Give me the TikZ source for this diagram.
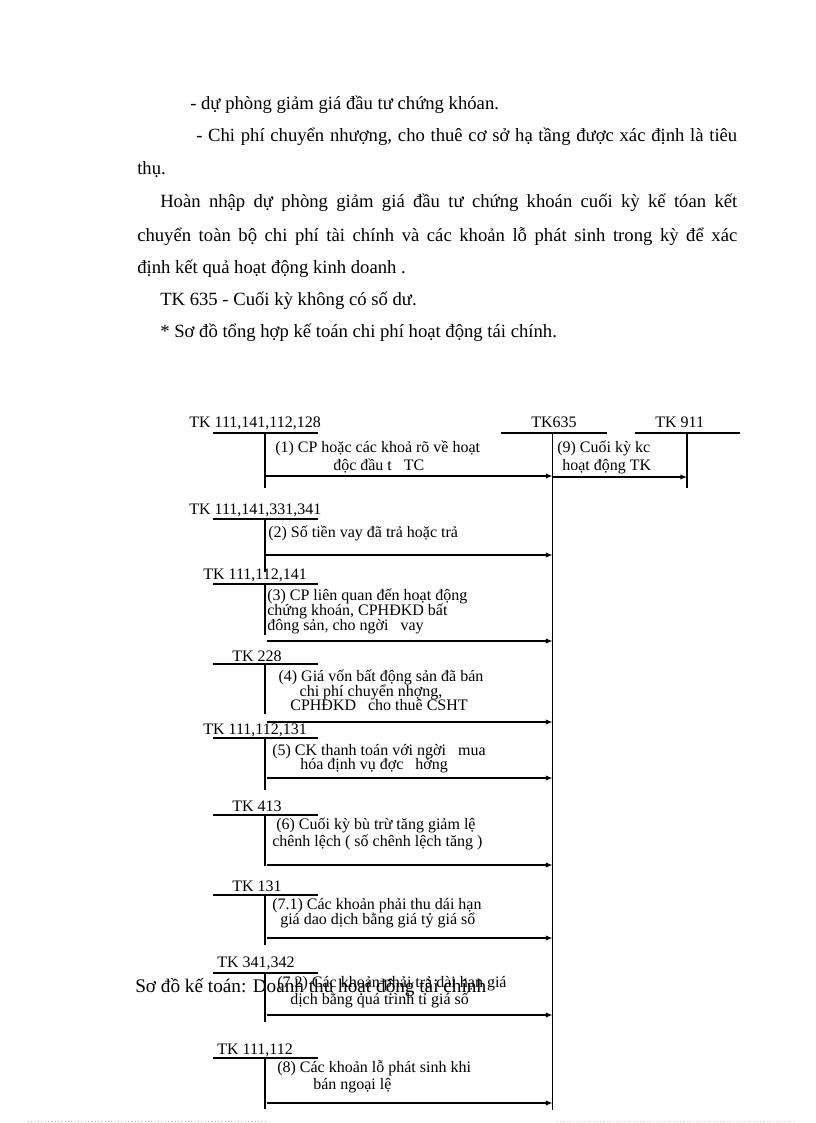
\documentclass[tikz,border=0pt]{standalone}
\usepackage{fontspec}
\setmainfont{Liberation Serif}
\usetikzlibrary{arrows.meta}
\begin{document}
\begin{tikzpicture}[x=0.75pt,y=-0.75pt,
  body/.style={inner sep=0pt,anchor=base west,font=\rmfamily\fontsize{14}{16}\selectfont},
  lbl/.style={inner sep=0pt,anchor=base west,font=\rmfamily\fontsize{12}{14}\selectfont},
  clbl/.style={inner sep=0pt,anchor=base,font=\rmfamily\fontsize{12}{14}\selectfont},
  ovltext/.style={inner sep=0pt,anchor=base west,font=\rmfamily\fontsize{14}{16}\selectfont},
  acc/.style={line width=0.8pt,black},
  flow/.style={line width=0.8pt,black,-{Latex[length=5pt,width=4pt]}},
  margin/.style={line width=0.5pt,dotted}]
\useasboundingbox (0,0) rectangle (816,1123);
\fill[white] (0,0) rectangle (816,1123);

% body text
\node[body] (t1) at (190,110) {- dự phòng giảm  giá  đầu tư chứng khóan.};
\node[body] (t2) at (196,142) {\makebox[405.75pt][s]{- Chi phí chuyển nhượng, cho thuê cơ sở hạ tầng được xác định là tiêu}};
\node[body] (t3) at (137,175) {thụ.};
\node[body] (t4) at (160,208) {\makebox[432.75pt][s]{Hoàn nhập dự phòng giảm giá đầu tư chứng khoán cuối kỳ kế tóan kết}};
\node[body] (t5) at (137,241) {\makebox[450pt][s]{chuyển toàn bộ chi phí tài chính và các khoản lỗ phát sinh trong kỳ để xác}};
\node[body] (t6) at (137,273) {định kết quả hoạt động kinh doanh .};
\node[body] (t7) at (160,305) {TK 635  - Cuối kỳ không có số dư.};
\node[body] (t8) at (160,337) {* Sơ đồ tổng hợp kế toán chi phí hoạt động tái chính.};

% TK635 and TK911
\node[lbl] (tk635) at (531,427) {TK635};
\draw[acc] (501,433) -- (607,433);
\coordinate (c635top) at (552.5,433);
\coordinate (c635bot) at (552.5,1110);
\draw[acc] (c635top) -- (c635bot);

\node[lbl] (tk911) at (655,427) {TK 911};
\draw[acc] (635,433) -- (740,433);
\coordinate (c911top) at (687,433);
\coordinate (c911bot) at (687,488);
\draw[acc] (c911top) -- (c911bot);

\node[lbl] (l9a) at (557,452) {(9)  Cuối kỳ kc};
\node[lbl] (l9b) at (562,470) {hoạt động TK};
\coordinate (a9s) at (552.5,477);
\coordinate (a9e) at (687,477);
\draw[flow] (a9s) -- (a9e);

% (1)
\node[lbl] (tk1) at (189,427) {TK 111,141,112,128};
\draw[acc] (213,433) -- (318,433);
\draw[acc] (265,433) -- (265,488);
\node[lbl] (l1a) at (275,452) {(1)  CP hoặc các khoả rõ về hoạt};
\node[lbl] (l1b) at (333,470) {độc đầu t \ \ TC};
\coordinate (a1s) at (266,476);
\coordinate (a1e) at (552.5,476);
\draw[flow] (a1s) -- (a1e);

% (2)
\node[lbl] (tk2) at (189,514) {TK 111,141,331,341};
\draw[acc] (213,519) -- (318,519);
\draw[acc] (265,519) -- (265,572);
\node[lbl] (l2a) at (268,537) {(2)  Số tiền vay  đã trả hoặc trả};
\coordinate (a2s) at (266,555);
\coordinate (a2e) at (552.5,555);
\draw[flow] (a2s) -- (a2e);

% (3)
\node[lbl] (tk3) at (203,579) {TK 111,112,141};
\draw[acc] (213,584) -- (318,584);
\draw[acc] (265,584) -- (265,635);
\node[lbl] (l3a) at (267,600) {(3)  CP liên quan đến hoạt động};
\node[lbl] (l3b) at (267,615) {chứng khoán, CPHĐKD  bất};
\node[lbl] (l3c) at (267,630) {đông sản, cho ngời \ \ vay};
\coordinate (a3s) at (267,641);
\coordinate (a3e) at (552.5,641);
\draw[flow] (a3s) -- (a3e);

% (4)
\node[lbl] (tk4) at (232,661) {TK 228};
\draw[acc] (213,664) -- (318,664);
\draw[acc] (265,664) -- (265,714);
\node[clbl] (l4a) at (381,681) {(4)  Giá vốn bất động sản đã bán};
\node[clbl] (l4b) at (371,696) {chi phí chuyển nhợng,};
\node[clbl] (l4c) at (379,710) {CPHĐKD \ \ cho thuê CSHT};
\coordinate (a4s) at (267,722);
\coordinate (a4e) at (552.5,722);
\draw[flow] (a4s) -- (a4e);

% (5)
\node[lbl] (tk5) at (203,734) {TK 111,112,131};
\draw[acc] (213,738) -- (318,738);
\draw[acc] (265,738) -- (265,790);
\node[lbl] (l5a) at (272,755) {(5)  CK thanh toán với ngời \ \ mua};
\node[lbl] (l5b) at (300,769) {hóa định vụ đợc \ \ hởng};
\coordinate (a5s) at (267,778);
\coordinate (a5e) at (552.5,778);
\draw[flow] (a5s) -- (a5e);

% (6)
\node[lbl] (tk6) at (232,811) {TK 413};
\draw[acc] (213,815) -- (318,815);
\draw[acc] (265,815) -- (265,866);
\node[lbl] (l6a) at (276,829) {(6)  Cuối kỳ bù trừ tăng giảm  lệ};
\node[lbl] (l6b) at (272,846) {chênh lệch ( số chênh lệch tăng )};
\coordinate (a6s) at (267,865);
\coordinate (a6e) at (552.5,865);
\draw[flow] (a6s) -- (a6e);

% (7.1)
\node[lbl] (tk71) at (232,891) {TK 131};
\draw[acc] (213,895) -- (318,895);
\draw[acc] (265,895) -- (265,945);
\node[lbl] (l71a) at (272,909) {(7.1) Các khoản phải thu dái hạn};
\node[lbl] (l71b) at (280,924) {giá dao dịch bằng giá tỷ giá sổ};
\coordinate (a71s) at (267,938);
\coordinate (a71e) at (552.5,938);
\draw[flow] (a71s) -- (a71e);

% (7.2)
\node[lbl] (tk72) at (217,967) {TK 341,342};
\draw[acc] (213,973) -- (318,973);
\draw[acc] (265,973) -- (265,1022);
\node[lbl] (l72a) at (277,987) {(7.2) Các khoản phải trả dài hạn giá};
\node[lbl] (l72b) at (290,1004) {dịch bằng quá trình tỉ giá số};
\node[ovltext] (ovl) at (135,992) {\scalebox{1.03}{Sơ đồ kế toán: Doanh thu hoạt động tài chính}};
\coordinate (a72s) at (267,1015);
\coordinate (a72e) at (552.5,1015);
\draw[flow] (a72s) -- (a72e);

% (8)
\node[lbl] (tk8) at (217,1054) {TK 111,112};
\draw[acc] (213,1058) -- (318,1058);
\draw[acc] (265,1058) -- (265,1109);
\node[lbl] (l8a) at (277,1072) {(8)  Các khoản lỗ phát sinh khi};
\node[lbl] (l8b) at (313,1089) {bán ngoại lệ};
\coordinate (a8s) at (267,1103);
\coordinate (a8e) at (552.5,1103);
\draw[flow] (a8s) -- (a8e);

% page margin marks
\draw[margin,gray!60] (28,1121) -- (268,1121);
\draw[margin,magenta!30] (557,1121) -- (795,1121);
\end{tikzpicture}
\end{document}
